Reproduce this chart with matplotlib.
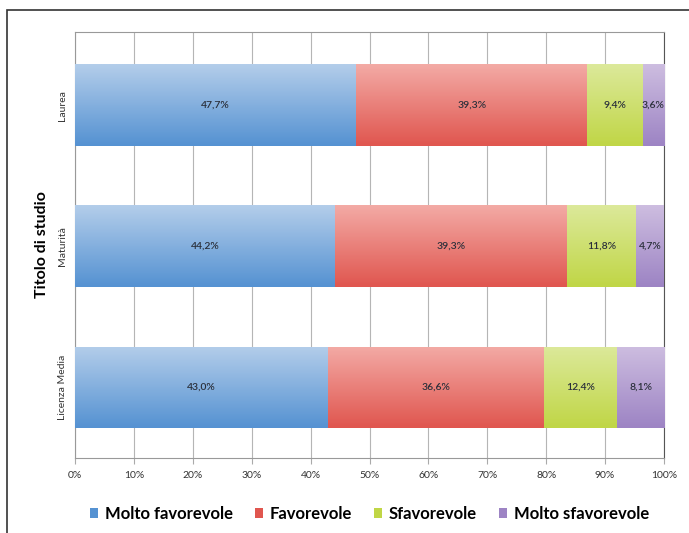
import numpy as np
import matplotlib
matplotlib.use("Agg")
import matplotlib.pyplot as plt
from matplotlib.colors import LinearSegmentedColormap
from matplotlib.patches import Rectangle

plt.rcParams['font.family'] = ['Lato', 'DejaVu Sans']

# titoli di studio, dal basso verso l'alto
titoli = ["Licenza Media", "Maturità", "Laurea"]
serie = ["Molto favorevole", "Favorevole", "Sfavorevole", "Molto sfavorevole"]
molto_fav = [43.0, 44.2, 47.7]
fav = [36.6, 39.3, 39.3]
sfav = [12.4, 11.8, 9.4]
molto_sfav = [8.1, 4.7, 3.6]
etichette_x = ["0%", "10%", "20%", "30%", "40%", "50%", "60%", "70%", "80%", "90%", "100%"]

# colori: chiaro in alto, scuro in basso
colori = [("#b3cdea", "#5592d2"),
          ("#f3aaa5", "#e0564f"),
          ("#dce99a", "#c0d646"),
          ("#cdbde0", "#9d84c4")]

fig = plt.figure(figsize=(6.89, 5.33), dpi=100)
ax = fig.add_axes([0.1089, 0.1407, 0.8548, 0.7993])

# cornice esterna
fig.patches.append(Rectangle((7 / 689, -0.1), 1.2, (533 - 10) / 533 + 0.1,
                             transform=fig.transFigure, fill=False,
                             edgecolor="#333333", lw=1.2, zorder=0))

y = np.arange(len(titoli))
valori = [molto_fav, fav, sfav, molto_sfav]
sinistra = np.zeros(len(titoli))
for nome, v, (c1, c2) in zip(serie, valori, colori):
    v = np.array(v)
    barre = ax.barh(y, v, left=sinistra, height=0.58, color=c2, label=nome,
                    edgecolor="none", zorder=2)
    cmap = LinearSegmentedColormap.from_list(nome, [c2, c1])
    for b in barre:
        x0, y0 = b.get_x(), b.get_y()
        w, h = b.get_width(), b.get_height()
        grad = np.linspace(0, 1, 64).reshape(-1, 1)
        im = ax.imshow(grad, extent=[x0, x0 + w, y0, y0 + h], origin="lower",
                       cmap=cmap, aspect="auto", zorder=3)
        im.set_clip_path(b)
    for yi, s, vi in zip(y, sinistra, v):
        ax.text(s + vi / 2, yi, f"{vi:.1f}%".replace(".", ","), ha="center",
                va="center", fontsize=7.5, fontweight="semibold",
                color="#2a2f3a", zorder=4)
    sinistra = sinistra + v

ax.set_xlim(0, 100)
ax.set_ylim(-0.5, 2.52)
ax.set_xticks(np.arange(0, 101, 10))
ax.set_xticklabels(etichette_x, fontsize=7.5, color="#333333")
ax.set_yticks(y)
ax.set_yticklabels(titoli, rotation=90, va="center", fontsize=7.5, color="#333333")
ax.tick_params(axis="y", length=0, pad=6)
ax.tick_params(axis="x", length=4, color="#aaaaaa", pad=5)
ax.grid(axis="x", color="#b5b5b5", lw=0.8, zorder=0)
ax.set_axisbelow(True)
for lato in ["top", "left", "bottom"]:
    ax.spines[lato].set_color("#999999")
ax.spines["right"].set_color("#555555")
ax.set_ylabel("Titolo di studio", fontsize=11.5, fontweight="bold", labelpad=6)

ax.legend(loc="upper center", bbox_to_anchor=(0.5, -0.077), ncol=4, frameon=False,
          handlelength=0.5, handleheight=0.5, handletextpad=0.4, columnspacing=1.3,
          prop={"size": 12, "weight": "bold"})

fig.savefig("out.png", dpi=100)
